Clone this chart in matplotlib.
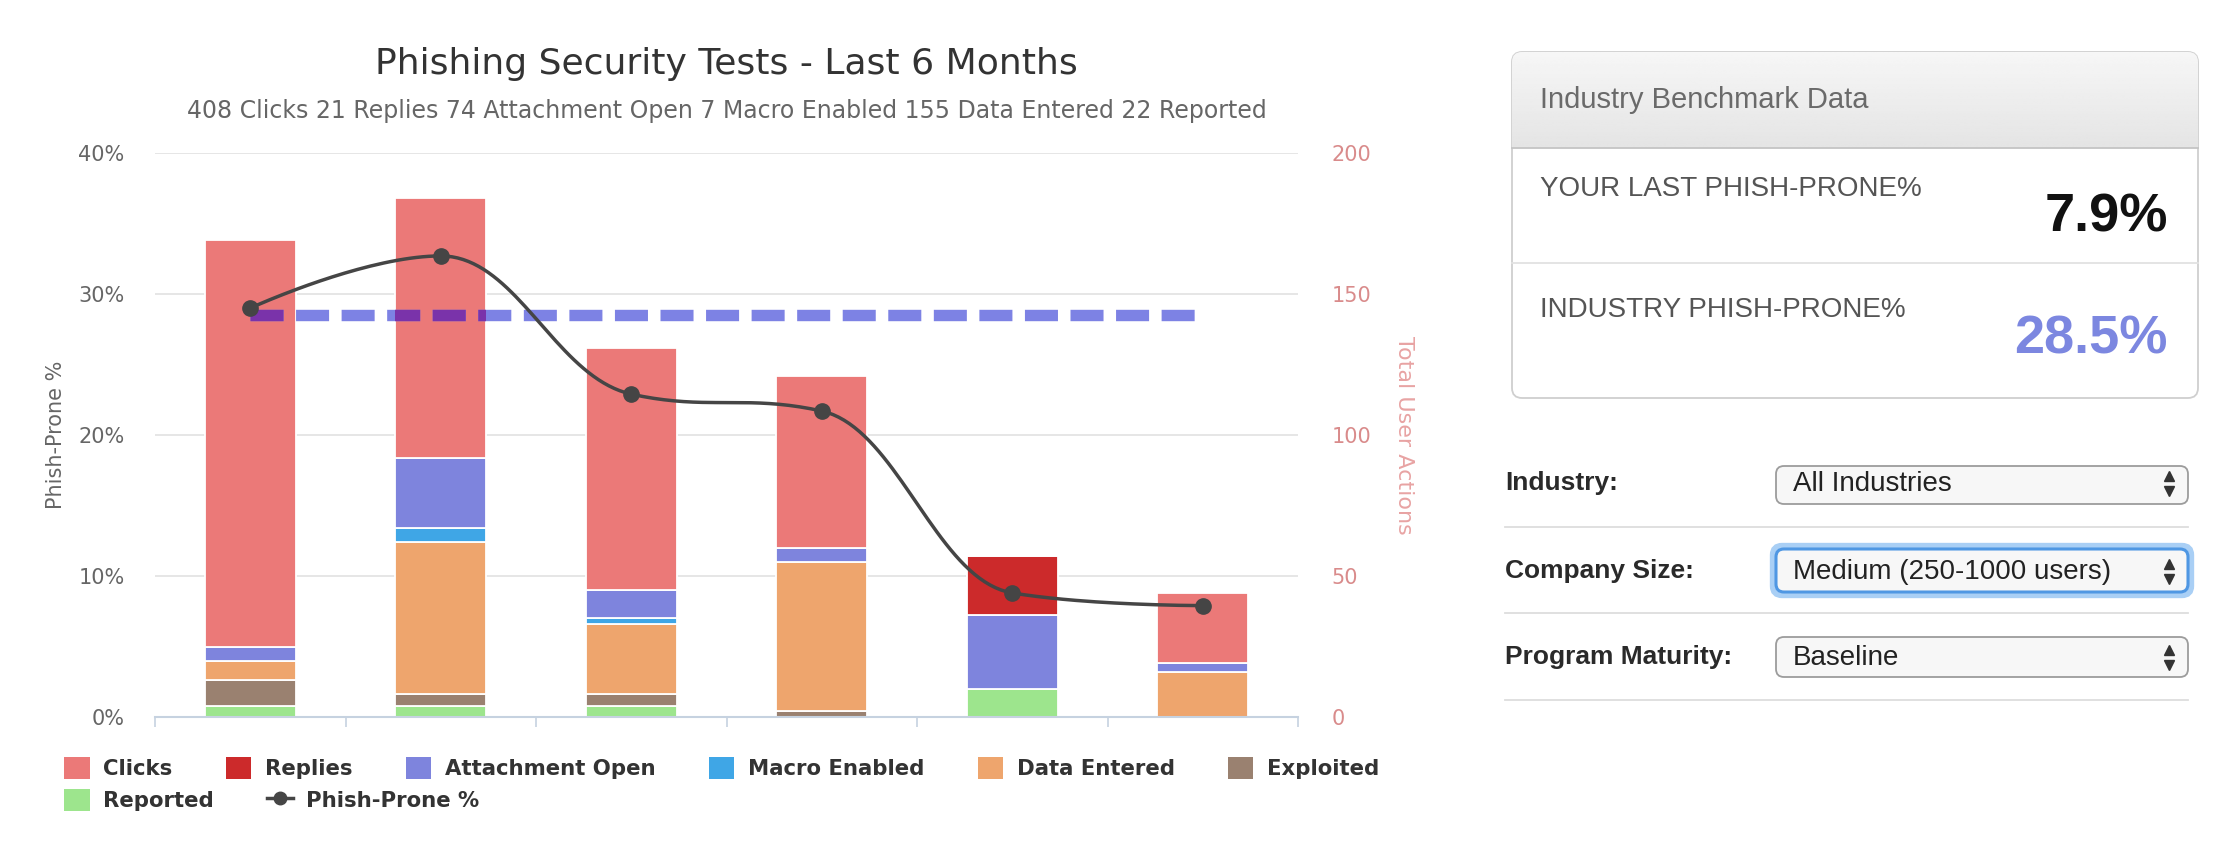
import numpy as np
import matplotlib.pyplot as plt
from matplotlib.patches import FancyBboxPatch, Patch
from matplotlib.lines import Line2D

# ---- data ----
series_names = ["Clicks", "Replies", "Attachment Open", "Macro Enabled",
                "Data Entered", "Exploited", "Reported"]
clicks = [144, 92, 86, 61, 0, 25]
replies = [0, 0, 0, 0, 21, 0]
attachment_open = [5, 25, 10, 5, 26, 3]
macro_enabled = [0, 5, 2, 0, 0, 0]
data_entered = [7, 54, 25, 53, 0, 16]
exploited = [9, 4, 4, 2, 0, 0]
reported = [4, 4, 4, 0, 10, 0]
phish_prone = [29.0, 32.7, 22.9, 21.7, 8.8, 7.9]   # %
industry_pct = 28.5

industry = "All Industries"
company_size = "Medium (250-1000 users)"
maturity = "Baseline"

colors = {
    "Clicks": "#EB7978",
    "Replies": "#CC2A2B",
    "Attachment Open": "#7E84DD",
    "Macro Enabled": "#3FA6E6",
    "Data Entered": "#EEA56D",
    "Exploited": "#9A8170",
    "Reported": "#9DE58D",
}

W, H = 2226, 846
plt.rcParams['font.family'] = ['DejaVu Sans']


def hc_spline(xs, ys, smoothing=1.5, steps=40):
    # Highcharts style spline through the points
    xs = np.asarray(xs, float)
    ys = np.asarray(ys, float)
    m = len(xs)
    denom = smoothing + 1
    left = [None] * m
    right = [None] * m
    for i in range(1, m - 1):
        lx, ly = xs[i - 1], ys[i - 1]
        px, py = xs[i], ys[i]
        nx, ny = xs[i + 1], ys[i + 1]
        lcx, lcy = (smoothing * px + lx) / denom, (smoothing * py + ly) / denom
        rcx, rcy = (smoothing * px + nx) / denom, (smoothing * py + ny) / denom
        if rcx != lcx:
            corr = (rcy - lcy) * (rcx - px) / (rcx - lcx) + py - rcy
            lcy += corr
            rcy += corr
        if lcy > ly and lcy > py:
            lcy = max(ly, py); rcy = 2 * py - lcy
        elif lcy < ly and lcy < py:
            lcy = min(ly, py); rcy = 2 * py - lcy
        if rcy > ny and rcy > py:
            rcy = max(ny, py); lcy = 2 * py - rcy
        elif rcy < ny and rcy < py:
            rcy = min(ny, py); lcy = 2 * py - rcy
        left[i] = (lcx, lcy)
        right[i] = (rcx, rcy)
    t = np.linspace(0, 1, steps)[:, None]
    out = []
    for i in range(1, m):
        p0 = np.array([xs[i - 1], ys[i - 1]])
        p3 = np.array([xs[i], ys[i]])
        p1 = np.array(right[i - 1]) if right[i - 1] else p0
        p2 = np.array(left[i]) if left[i] else p3
        seg = ((1 - t) ** 3) * p0 + 3 * ((1 - t) ** 2) * t * p1 + 3 * (1 - t) * t ** 2 * p2 + t ** 3 * p3
        out.append(seg if i == 1 else seg[1:])
    out = np.vstack(out)
    return out[:, 0], out[:, 1]


fig = plt.figure(figsize=(W / 100, H / 100), dpi=100)
fig.patch.set_facecolor("white")

pl, pr, pt, pb = 155, 1298, 153, 717
ax = fig.add_axes([pl / W, 1 - pb / H, (pr - pl) / W, (pb - pt) / H])
ax2 = ax.twinx()
ax.set_zorder(ax2.get_zorder() + 1)
ax.patch.set_visible(False)

x = np.arange(len(clicks))
bar_w = 0.48

# stacked columns, bottom to top
stack = [("Reported", reported), ("Exploited", exploited), ("Data Entered", data_entered),
         ("Macro Enabled", macro_enabled), ("Attachment Open", attachment_open),
         ("Replies", replies), ("Clicks", clicks)]
bottom = np.zeros(len(x))
containers = {}
for name, vals in stack:
    vals = np.asarray(vals, float)
    containers[name] = ax2.bar(x, vals, bar_w, bottom=bottom, color=colors[name],
                               edgecolor="white", linewidth=1.3, zorder=2)
    bottom += vals

ax2.set_ylim(0, 200)
ax2.set_yticks([0, 50, 100, 150, 200])
ax2.yaxis.grid(True, color="#E4E4E4", linewidth=1.3)
ax2.set_axisbelow(True)
ax2.tick_params(axis="y", length=0, pad=24, labelsize=15, labelcolor="#D98B8B")
ax2.set_ylabel("Total User Actions", rotation=270, fontsize=16, color="#E8A3A3", va="center")
ax2.yaxis.set_label_coords(1.093, 0.5)
for s in ax2.spines.values():
    s.set_visible(False)

# industry benchmark dashed line
xs_line = [x[0], x[-1]]
dash_kw = dict(linewidth=8.2, dashes=(2.9, 1.1), solid_capstyle="butt", dash_capstyle="butt")
ax.plot(xs_line, [industry_pct, industry_pct], color="#7D82E4", zorder=2, **dash_kw)
for rect in containers["Clicks"]:
    ln, = ax.plot(xs_line, [industry_pct, industry_pct], color="#7A33AA", zorder=2.1, **dash_kw)
    ln.set_clip_path(rect)

# phish-prone spline
sx, sy = hc_spline(x, phish_prone)
ax.plot(sx, sy, color="#454545", linewidth=2.5, zorder=4)
ax.plot(x, phish_prone, "o", color="#454545", markersize=11, zorder=5)

ax.set_xlim(-0.5, len(x) - 0.5)
ax.set_ylim(0, 40)
ax.set_yticks([0, 10, 20, 30, 40])
ax.set_yticklabels([f"{v}%" for v in [0, 10, 20, 30, 40]])
ax.tick_params(axis="y", length=0, pad=22, labelsize=15, labelcolor="#666666")
ax.set_xticks(np.arange(-0.5, len(x), 1))
ax.set_xticklabels([])
ax.tick_params(axis="x", length=7, width=1.2, color="#C6D2E0")
for s in ["top", "left", "right"]:
    ax.spines[s].set_visible(False)
ax.spines["bottom"].set_color("#C6D2E0")
ax.spines["bottom"].set_linewidth(1.5)
ax.set_ylabel("Phish-Prone %", fontsize=15, color="#666666")
ax.yaxis.set_label_coords(-0.078, 0.5)

# title and subtitle
cx = (pl + pr) / 2 / W
fig.text(cx, 1 - 64 / H, "Phishing Security Tests - Last 6 Months", ha="center", va="center",
         fontsize=26, color="#333333")
subtitle = (f"{sum(clicks)} Clicks {sum(replies)} Replies {sum(attachment_open)} Attachment Open "
            f"{sum(macro_enabled)} Macro Enabled {sum(data_entered)} Data Entered {sum(reported)} Reported")
fig.text(cx, 1 - 111 / H, subtitle, ha="center", va="center", fontsize=17, color="#666666")

# legend (two rows)
leg_kw = dict(frameon=False, prop={"weight": "bold", "size": 15.3}, labelcolor="#333333",
              handlelength=1.2, handleheight=1.2, handletextpad=0.65, columnspacing=2.5,
              borderpad=0, borderaxespad=0, loc="center left")
row1 = series_names[:6]
fig.legend([Patch(facecolor=colors[n], edgecolor="none") for n in row1], row1, ncol=6,
           bbox_to_anchor=(64 / W, 1 - 768 / H), **leg_kw)
fig.legend([Patch(facecolor=colors["Reported"], edgecolor="none"),
            Line2D([], [], color="#454545", linewidth=2.5, marker="o", markersize=9)],
           ["Reported", "Phish-Prone %"], ncol=2,
           bbox_to_anchor=(64 / W, 1 - 800 / H), **leg_kw)

# ---- right hand panel ----
ov = fig.add_axes([0, 0, 1, 1])
ov.set_xlim(0, W)
ov.set_ylim(H, 0)
ov.axis("off")
pf = ["Liberation Sans", "DejaVu Sans"]

card = FancyBboxPatch((1512, 52), 686, 346, boxstyle="round,pad=0,rounding_size=10",
                      facecolor="white", edgecolor="#CFCFCF", linewidth=1.3, zorder=1)
ov.add_patch(card)
grad = np.linspace(0.965, 0.895, 50)[:, None] * np.ones((1, 2))
im = ov.imshow(grad, cmap="gray", vmin=0, vmax=1, extent=(1512, 2198, 148, 52),
               aspect="auto", zorder=1.5, interpolation="bilinear")
im.set_clip_path(card)
ov.plot([1512, 2198], [148, 148], color="#C4C4C4", linewidth=1.3, zorder=2)
ov.plot([1512, 2198], [263, 263], color="#E2E2E2", linewidth=1.3, zorder=2)
ov.set_xlim(0, W)
ov.set_ylim(H, 0)

ov.text(1540, 100, "Industry Benchmark Data", fontsize=21, color="#6A6A6A", va="center", family=pf)
ov.text(1540, 189, "YOUR LAST PHISH-PRONE%", fontsize=20, color="#555555", va="center", family=pf)
ov.text(2168, 218, f"{phish_prone[-1]}%", fontsize=39, weight="bold", color="#111111",
        ha="right", va="center", family=pf)
ov.text(1540, 310, "INDUSTRY PHISH-PRONE%", fontsize=20, color="#555555", va="center", family=pf)
ov.text(2168, 339, f"{industry_pct}%", fontsize=39, weight="bold", color="#7C87E0",
        ha="right", va="center", family=pf)

rows = [("Industry:", industry, 466, 504, 483, 527),
        ("Company Size:", company_size, 549, 592, 571, 613),
        ("Program Maturity:", maturity, 637, 677, 657, 700)]
for i, (label, value, y0, y1, yc, ysep) in enumerate(rows):
    ov.text(1505, yc, label, fontsize=19, weight="bold", color="#2A2A2A", va="center", family=pf)
    if i == 1:
        glow = FancyBboxPatch((1774, y0 - 2), 416, y1 - y0 + 4, boxstyle="round,pad=0,rounding_size=8",
                              facecolor="none", edgecolor="#A9CFF5", linewidth=6, zorder=2)
        ov.add_patch(glow)
        ec, lw = "#4F97E3", 2.2
    else:
        ec, lw = "#9C9C9C", 1.3
    box = FancyBboxPatch((1776, y0), 412, y1 - y0, boxstyle="round,pad=0,rounding_size=8",
                         facecolor="#F7F7F7", edgecolor=ec, linewidth=lw, zorder=3)
    ov.add_patch(box)
    ov.text(1793, yc + 1, value, fontsize=20, color="#222222", va="center", family=pf, zorder=4)
    ov.plot([2169], [yc - 7], marker="^", markersize=7, color="#333333", zorder=4)
    ov.plot([2169], [yc + 8], marker="v", markersize=7, color="#333333", zorder=4)
    ov.plot([1505, 2188], [ysep, ysep], color="#DDDDDD", linewidth=1.3, zorder=2)

fig.savefig("out.png", dpi=100, facecolor="white")
